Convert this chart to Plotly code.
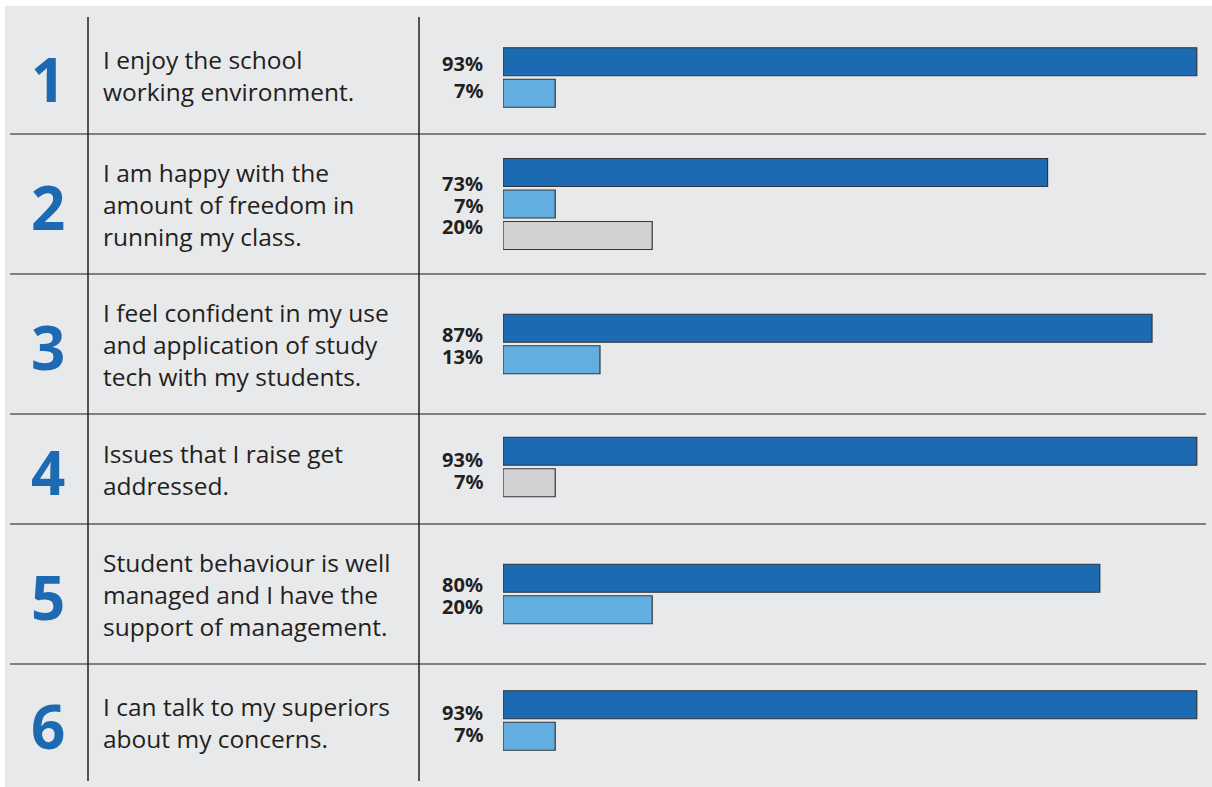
import plotly.graph_objects as go

# Survey statements and response shares (%)
numbers = ["1", "2", "3", "4", "5", "6"]
statements = [
    "I enjoy the school<br>working environment.",
    "I am happy with the<br>amount of freedom in<br>running my class.",
    "I feel confident in my use<br>and application of study<br>tech with my students.",
    "Issues that I raise get<br>addressed.",
    "Student behaviour is well<br>managed and I have the<br>support of management.",
    "I can talk to my superiors<br>about my concerns.",
]
agree = [93, 73, 87, 93, 80, 93]
light = [7, 7, 13, None, 20, 7]
grey = [None, 20, None, 7, None, None]

W, H = 1212, 787
DARK_BLUE = "#1c6ab2"
LIGHT_BLUE = "#62aee0"
GREY = "#d1d2d4"
INK = "#231f20"
PANEL = "#e8e9eb"

# Table geometry in pixels (y axis runs top-down in pixel units)
row_edges = [17, 134, 274, 414, 524, 664, 781]
bar_x0 = 503
px_per_pct = 7.46
bar_h = 28
bar_pitch = 31.5
label_pitch = [27, 21.5, 22, 22, 22, 21.5]
bar_shift = [2, 0, 0, -2, 0, -2]

fig = go.Figure()

series = [("agree", agree, DARK_BLUE), ("light", light, LIGHT_BLUE), ("grey", grey, GREY)]
bars = {name: ([], []) for name, _, _ in series}
annotations = []

for r in range(len(statements)):
    top, bot = row_edges[r], row_edges[r + 1]
    centre = (top + bot) / 2
    present = [(name, vals[r]) for name, vals, _ in series if vals[r] is not None]
    n = len(present)
    for i, (name, v) in enumerate(present):
        y = centre + bar_shift[r] + (i - (n - 1) / 2) * bar_pitch
        bars[name][0].append(v)
        bars[name][1].append(y)
        ly = centre + 1 + (i - (n - 1) / 2) * label_pitch[r]
        annotations.append(dict(
            x=485 / W, xref="paper", y=ly, yref="y", text=f"<b>{v}%</b>",
            xanchor="right", yanchor="middle", showarrow=False,
            font=dict(family="Noto Sans", size=20, color=INK),
        ))
    annotations.append(dict(
        x=48 / W, xref="paper", y=centre + 3, yref="y", text=f"<b>{numbers[r]}</b>",
        xanchor="center", yanchor="middle", showarrow=False,
        font=dict(family="Open Sans", size=60, color=DARK_BLUE),
    ))
    annotations.append(dict(
        x=101 / W, xref="paper", y=centre, yref="y", text=statements[r],
        xanchor="left", yanchor="middle", align="left", showarrow=False,
        font=dict(family="Open Sans", size=24.5, color=INK),
    ))

for name, _, colour in series:
    xs, ys = bars[name]
    fig.add_trace(go.Bar(
        x=xs, y=ys, orientation="h", width=bar_h, base=0,
        marker=dict(color=colour, line=dict(color="#333538", width=1.2)),
        hoverinfo="skip", showlegend=False,
    ))

shapes = [
    dict(type="rect", xref="paper", yref="y", x0=5 / W, x1=1, y0=6, y1=H,
         fillcolor=PANEL, line=dict(width=0), layer="below"),
]
for yb in row_edges[1:-1]:
    shapes.append(dict(type="line", xref="paper", yref="y", x0=10 / W, x1=1206 / W,
                       y0=yb, y1=yb, line=dict(color="#5b5c5e", width=1.5), layer="below"))
for xv in (88, 419):
    shapes.append(dict(type="line", xref="paper", yref="y", x0=xv / W, x1=xv / W,
                       y0=row_edges[0], y1=row_edges[-1],
                       line=dict(color=INK, width=1.5), layer="below"))

fig.update_layout(
    width=W, height=H,
    margin=dict(l=0, r=0, t=0, b=0),
    paper_bgcolor="white", plot_bgcolor="rgba(0,0,0,0)",
    barmode="overlay",
    xaxis=dict(domain=[bar_x0 / W, 1], range=[0, (W - bar_x0) / px_per_pct],
               visible=False, fixedrange=True),
    yaxis=dict(domain=[0, 1], range=[H, 0], visible=False, fixedrange=True),
    shapes=shapes,
    annotations=annotations,
)

fig.write_html("out.html")
